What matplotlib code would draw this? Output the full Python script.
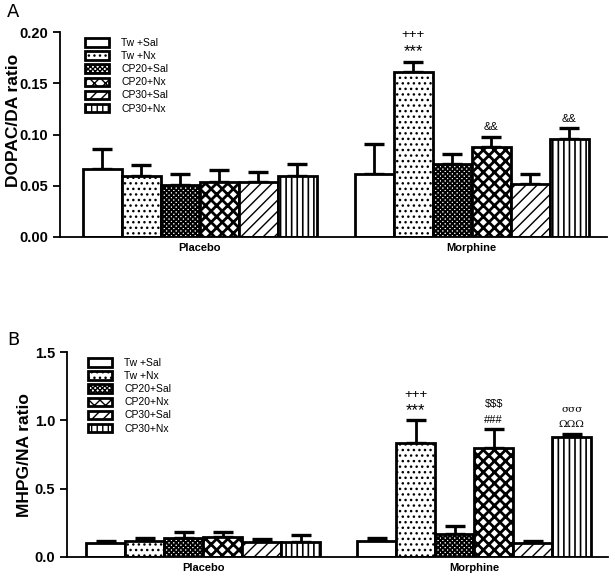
import numpy as np
import matplotlib
matplotlib.use("Agg")
import matplotlib.pyplot as plt
from matplotlib.patches import Patch

plt.rcParams['font.family'] = ['Liberation Sans', 'DejaVu Sans']
plt.rcParams['hatch.linewidth'] = 1.0

# data
groups = ["Placebo", "Morphine"]
treatments = ["Tw +Sal", "Tw +Nx", "CP20+Sal", "CP20+Nx", "CP30+Sal", "CP30+Nx"]

dopac_placebo = [0.066, 0.060, 0.051, 0.054, 0.054, 0.060]
dopac_placebo_err = [0.020, 0.010, 0.010, 0.011, 0.009, 0.011]
dopac_morphine = [0.061, 0.161, 0.071, 0.088, 0.052, 0.096]
dopac_morphine_err = [0.030, 0.010, 0.010, 0.010, 0.009, 0.010]

mhpg_placebo = [0.10, 0.12, 0.14, 0.15, 0.11, 0.11]
mhpg_placebo_err = [0.02, 0.02, 0.04, 0.03, 0.02, 0.05]
mhpg_morphine = [0.12, 0.835, 0.17, 0.80, 0.10, 0.88]
mhpg_morphine_err = [0.02, 0.17, 0.06, 0.14, 0.02, 0.02]

# significance marks on morphine bars: bar index -> lines (bottom first)
dopac_marks = {1: ["***", "+++"], 3: ["&&"], 5: ["&&"]}
mhpg_marks = {1: ["***", "+++"], 3: ["###", r"\$\$\$"], 5: ["ΩΩΩ", "σσσ"]}

hatches = ["", "...", "xxxxxxx", "xxx", "///", "|||"]
hatch_lw = [1.0, 1.0, 1.4, 2.0, 1.0, 1.2]


def set_hlw(patch, lw):
    try:
        patch.set_hatch_linewidth(lw)
    except AttributeError:
        pass


def draw_panel(rect, letter, letter_xy, ylabel, label_xy, placebo, placebo_err,
               morphine, morphine_err, marks, ylim, yticks, fmt, offsets,
               mark_offsets, legend_xy):
    ax = fig.add_axes(rect)
    start_p, start_m, xmax = offsets
    n = len(treatments)
    for g, (vals, errs, start) in enumerate([(placebo, placebo_err, start_p),
                                               (morphine, morphine_err, start_m)]):
        x = start + 0.5 + np.arange(n)
        ax.errorbar(x, vals, yerr=[np.zeros(n), errs], fmt="none", ecolor="black",
                    elinewidth=2, capsize=7, capthick=2.4, zorder=1)
        for i in range(n):
            b = ax.bar(x[i], vals[i], width=1.0, facecolor="white", edgecolor="black",
                       hatch=hatches[i], linewidth=2, zorder=2)
            set_hlw(b[0], hatch_lw[i])
        ax.text(x.mean(), -0.055 * ylim, groups[g], ha="center", va="center",
                fontsize=8, fontweight="bold")
        if g == 1:
            for idx, lines in marks.items():
                top = vals[idx] + errs[idx]
                for k, s in enumerate(lines):
                    if s[0] in "σΩ":
                        fam, fs = ["DejaVu Serif"], 7.5
                    elif s[0] == "*":
                        fam, fs = ["Liberation Sans", "DejaVu Sans"], 12
                    elif s[0] == "+":
                        fam, fs = ["Liberation Sans", "DejaVu Sans"], 9.5
                    else:
                        fam, fs = ["Liberation Sans", "DejaVu Sans"], 8
                    ax.annotate(s, (x[idx], top), xytext=(0, mark_offsets[k]),
                                textcoords="offset points", ha="center", va="center",
                                fontsize=fs, family=fam)
    ax.set_xlim(0, xmax)
    ax.set_ylim(0, ylim)
    ax.set_yticks(yticks)
    ax.set_yticklabels([fmt.format(v) for v in yticks], fontsize=10.5, fontweight="bold")
    ax.set_xticks([])
    ax.spines["top"].set_visible(False)
    ax.spines["right"].set_visible(False)
    ax.spines["left"].set_linewidth(1.3)
    ax.spines["bottom"].set_linewidth(1.3)
    ax.tick_params(axis="y", direction="out", length=5, width=1.3)
    ax.set_ylabel(ylabel, fontsize=12.5, fontweight="bold")
    ax.yaxis.set_label_coords(label_xy[0], label_xy[1], transform=fig.transFigure)
    fig.text(letter_xy[0], letter_xy[1], letter, fontsize=13,
             family=["DejaVu Sans"], va="center", ha="center")
    handles = []
    for h, lw in zip(hatches, hatch_lw):
        p = Patch(facecolor="white", edgecolor="black", hatch=h, linewidth=2)
        set_hlw(p, lw)
        handles.append(p)
    ax.legend(handles, treatments, loc="upper left", bbox_to_anchor=legend_xy,
              bbox_transform=fig.transFigure,
              frameon=False, fontsize=7.5, handlelength=2.3, handleheight=0.85,
              labelspacing=0.3, handletextpad=1.2, borderpad=0, borderaxespad=0)
    return ax


fig = plt.figure(figsize=(6.15, 5.82), dpi=100)

draw_panel([60 / 615, 1 - 237 / 582, 547 / 615, 205 / 582], "A", (13 / 615, 1 - 12 / 582),
           "DOPAC/DA ratio", (21 / 615, 1 - 120 / 582),
           dopac_placebo, dopac_placebo_err, dopac_morphine, dopac_morphine_err,
           dopac_marks, 0.20, [0, 0.05, 0.10, 0.15, 0.20], "{:.2f}",
           (0.59, 7.56, 14.03), [7, 19], (85 / 615, 1 - 38 / 582))

draw_panel([67 / 615, 1 - 557 / 582, 541 / 615, 205 / 582], "B", (13 / 615, 1 - 340 / 582),
           "MHPG/NA ratio", (32 / 615, 1 - 455 / 582),
           mhpg_placebo, mhpg_placebo_err, mhpg_morphine, mhpg_morphine_err,
           mhpg_marks, 1.5, [0, 0.5, 1.0, 1.5], "{:.1f}",
           (0.49, 7.44, 13.87), [6.5, 17.5], (88 / 615, 1 - 358 / 582))

fig.savefig("out.png", dpi=100)
